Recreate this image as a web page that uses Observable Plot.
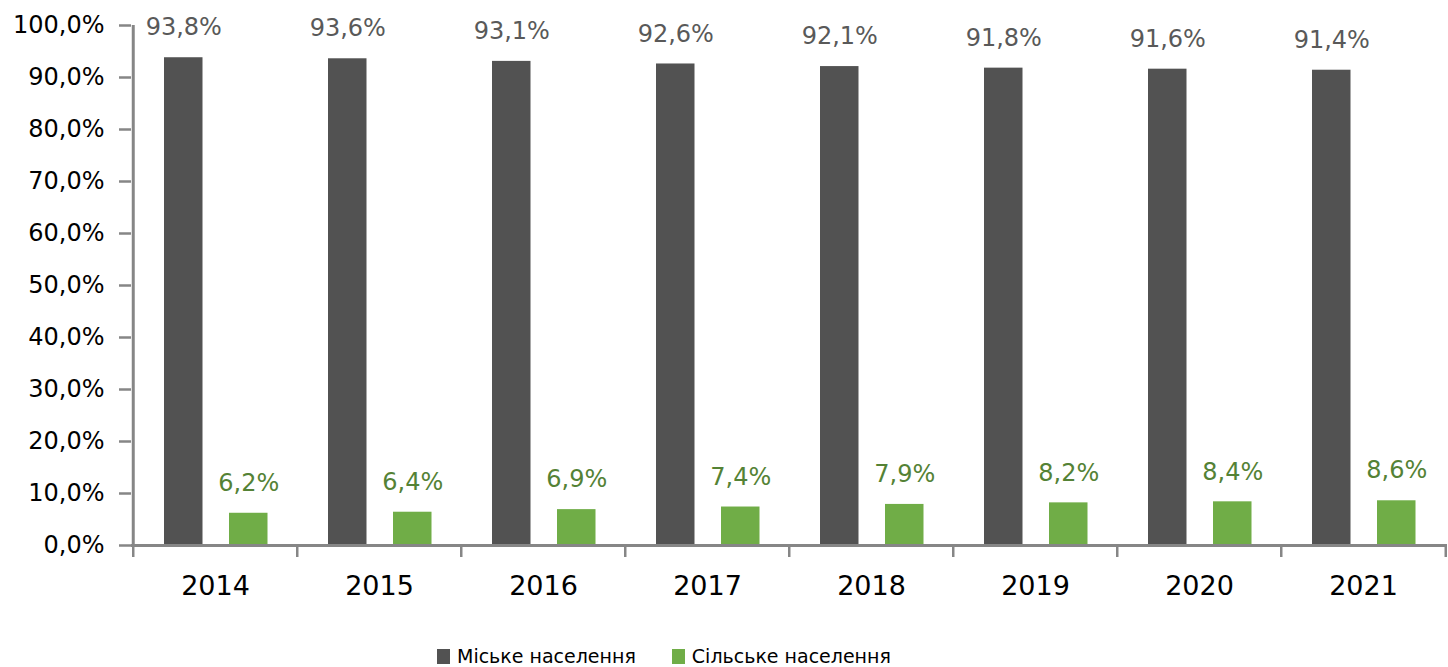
<!DOCTYPE html>
<html><head><meta charset="utf-8">
<script src="https://cdn.jsdelivr.net/npm/d3@7"></script>
<script src="https://cdn.jsdelivr.net/npm/@observablehq/plot@0.6"></script>
<style>
body{margin:0;background:#fff;font-family:"DejaVu Sans",sans-serif;}
#legend{display:flex;align-items:center;padding-left:437px;margin-top:15px;font-size:19px;line-height:22px;color:#000;white-space:nowrap}
.item{display:flex;align-items:center;margin-right:36px}
.sw{width:13px;height:15px;margin-right:7px}
</style></head><body>
<div id="chart"></div>
<div id="legend"></div>
<script>
const years = ["2014","2015","2016","2017","2018","2019","2020","2021"];
const urban = [93.8,93.6,93.1,92.6,92.1,91.8,91.6,91.4];
const rural = [6.2,6.4,6.9,7.4,7.9,8.2,8.4,8.6];
const seriesNames = ["Міське населення","Сільське населення"];
const barColors = ["#525252","#70AD47"];
const labelColors = ["#595959","#548235"];
const yTicks = [0,10,20,30,40,50,60,70,80,90,100];

const W = 1448, H = 630, ML = 131, MR = 1, MT = 25, MB = 85;
const step = (W - ML - MR) / years.length;
const axisColor = "#868686";
const fmt = v => v.toFixed(1).replace(".", ",") + "%";

const urbanData = years.map((y, i) => ({year: y, value: urban[i]}));
const ruralData = years.map((y, i) => ({year: y, value: rural[i]}));

// bar placement inside each year band (style insets)
const inset = [[31, 94.5], [96, 29.5]];
const centerDx = inset.map(([l, r]) => l + (step - l - r) / 2 - step / 2);

const chart = Plot.plot({
  width: W, height: H,
  marginLeft: ML, marginRight: MR, marginTop: MT, marginBottom: MB,
  style: {fontFamily: "DejaVu Sans", background: "#fff"},
  x: {type: "band", domain: years, padding: 0, label: null},
  y: {domain: [0, 100], label: null},
  marks: [
    Plot.barY(urbanData, {x: "year", y: "value", fill: barColors[0], insetLeft: inset[0][0], insetRight: inset[0][1]}),
    Plot.barY(ruralData, {x: "year", y: "value", fill: barColors[1], insetLeft: inset[1][0], insetRight: inset[1][1]}),
    Plot.text(urbanData, {x: "year", y: "value", text: d => fmt(d.value), dx: centerDx[0], dy: -30, fill: labelColors[0], fontSize: 24}),
    Plot.text(ruralData, {x: "year", y: "value", text: d => fmt(d.value), dx: centerDx[1], dy: -30, fill: labelColors[1], fontSize: 24}),
    Plot.axisY({ticks: yTicks, tickSize: 12, tickPadding: 15, tickFormat: fmt, stroke: axisColor, strokeWidth: 2.5, fill: "#000", fontSize: 24, label: null}),
    Plot.axisX({tickSize: 0, tickPadding: 30, fill: "#000", fontSize: 27, label: null}),
    Plot.axisX({tickSize: 12, tickFormat: () => "", dx: -step / 2, stroke: axisColor, strokeWidth: 2.5, label: null}),
    Plot.axisX([years[years.length - 1]], {tickSize: 12, tickFormat: () => "", dx: step / 2, stroke: axisColor, strokeWidth: 2.5, label: null}),
    Plot.ruleX([years[0]], {dx: -step / 2, y1: 0, y2: 100, stroke: axisColor, strokeWidth: 3}),
    Plot.ruleY([0], {stroke: axisColor, strokeWidth: 3})
  ]
});
document.getElementById("chart").appendChild(chart);

const legend = document.getElementById("legend");
seriesNames.forEach((name, i) => {
  const item = document.createElement("div");
  item.className = "item";
  const sw = document.createElement("span");
  sw.className = "sw";
  sw.style.background = barColors[i];
  const t = document.createElement("span");
  t.textContent = name;
  item.appendChild(sw); item.appendChild(t);
  legend.appendChild(item);
});
</script>
</body></html>
